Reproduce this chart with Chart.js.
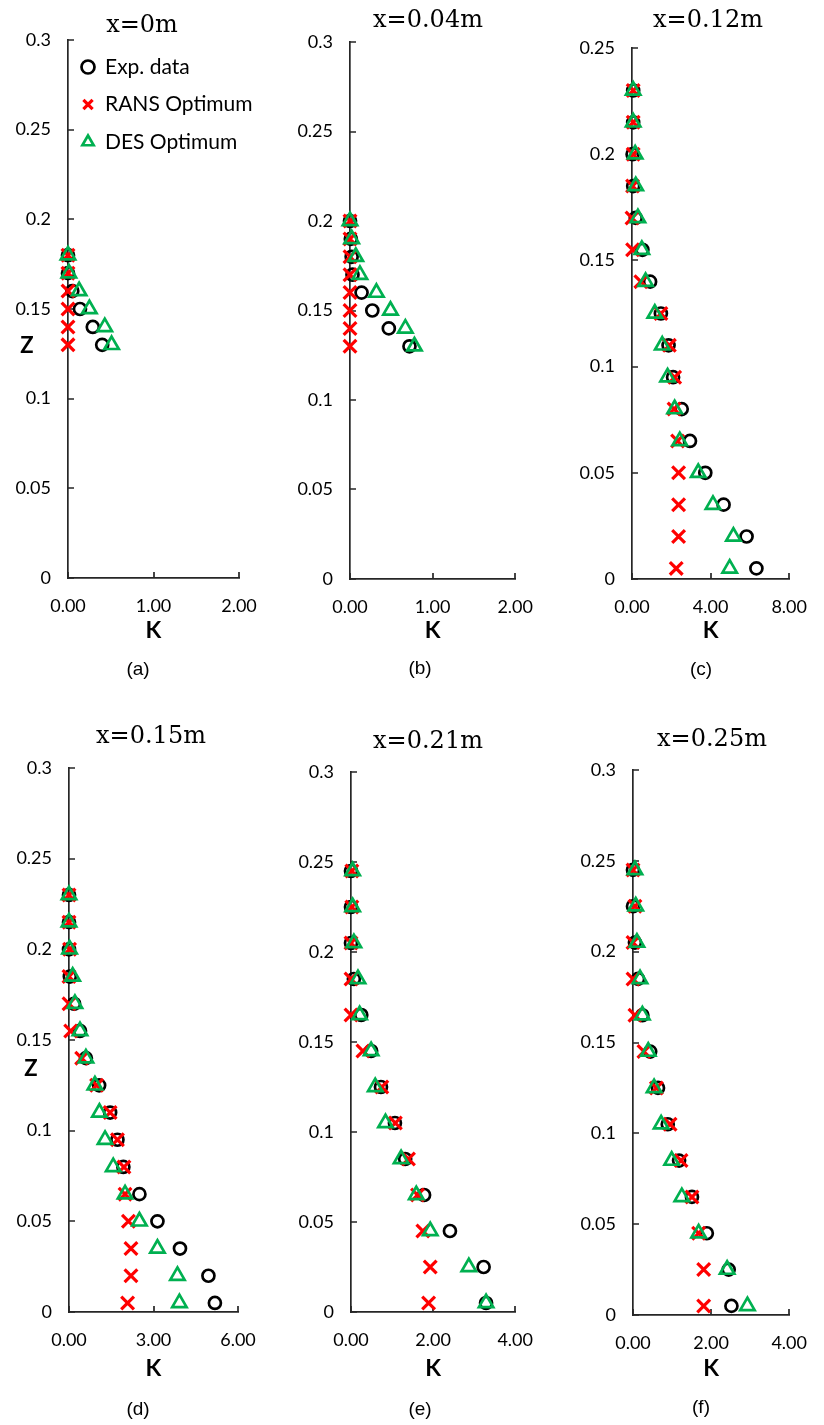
<!DOCTYPE html>
<html>
<head>
<meta charset="utf-8">
<title>K profiles</title>
<script src="https://cdn.jsdelivr.net/npm/chart.js@4/dist/chart.umd.min.js"></script>
<style>
  html, body { margin: 0; padding: 0; background: #ffffff; }
  #page { position: relative; width: 824px; height: 1425px; overflow: hidden; }
  #page canvas { position: absolute; }
</style>
</head>
<body>
<div id="page"></div>
<script>
// ---- data ---------------------------------------------------------------
const seriesNames = ['Exp. data', 'RANS Optimum', 'DES Optimum'];
const panelTitles = ['x=0m', 'x=0.04m', 'x=0.12m', 'x=0.15m', 'x=0.21m', 'x=0.25m'];
const panelCaptions = ['(a)', '(b)', '(c)', '(d)', '(e)', '(f)'];

// vertical tick values (Z) and horizontal tick values (K)
const zTicksTall = [0, 0.05, 0.1, 0.15, 0.2, 0.25, 0.3];
const zTicksShort = [0, 0.05, 0.1, 0.15, 0.2, 0.25];
const kTicksA = [0, 1, 2];
const kTicksB = [0, 1, 2];
const kTicksC = [0, 4, 8];
const kTicksD = [0, 3, 6];
const kTicksE = [0, 2, 4];
const kTicksF = [0, 2, 4];

// x = 0 m
const zA    = [0.18, 0.17, 0.16, 0.15, 0.14, 0.13];
const expA  = [0.00, 0.00, 0.05, 0.14, 0.29, 0.40];
const ransA = [0.00, 0.00, 0.00, 0.00, 0.00, 0.00];
const desA  = [0.00, 0.01, 0.13, 0.25, 0.43, 0.51];

// x = 0.04 m
const zB    = [0.20, 0.19, 0.18, 0.17, 0.16, 0.15, 0.14, 0.13];
const expB  = [0.00, 0.01, 0.02, 0.03, 0.14, 0.27, 0.47, 0.72];
const ransB = [0.00, 0.00, 0.00, 0.00, 0.00, 0.00, 0.00, 0.00];
const desB  = [0.00, 0.02, 0.07, 0.12, 0.32, 0.49, 0.67, 0.78];

// x = 0.12 m
const zC    = [0.23, 0.215, 0.2, 0.185, 0.17, 0.155, 0.14, 0.125, 0.11, 0.095, 0.08, 0.065, 0.05, 0.035, 0.02, 0.005];
const expC  = [0.06, 0.06, 0.03, 0.06, 0.19, 0.53, 0.92, 1.47, 1.86, 2.09, 2.53, 2.95, 3.73, 4.66, 5.83, 6.33];
const ransC = [0.06, 0.06, 0.06, 0.03, 0.00, 0.03, 0.45, 1.47, 1.90, 2.17, 2.14, 2.32, 2.37, 2.37, 2.37, 2.25];
const desC  = [0.06, 0.06, 0.16, 0.19, 0.30, 0.50, 0.69, 1.16, 1.54, 1.81, 2.17, 2.43, 3.37, 4.12, 5.16, 4.97];

// x = 0.15 m
const zD    = [0.23, 0.215, 0.2, 0.185, 0.17, 0.155, 0.14, 0.125, 0.11, 0.095, 0.08, 0.065, 0.05, 0.035, 0.02, 0.005];
const expD  = [0.00, 0.00, 0.00, 0.03, 0.18, 0.39, 0.60, 1.07, 1.46, 1.72, 1.93, 2.50, 3.14, 3.94, 4.95, 5.18];
const ransD = [0.00, 0.00, 0.02, 0.00, 0.00, 0.06, 0.45, 0.98, 1.46, 1.72, 1.95, 1.99, 2.11, 2.20, 2.20, 2.08];
const desD  = [0.00, 0.00, 0.02, 0.13, 0.21, 0.39, 0.60, 0.92, 1.08, 1.28, 1.57, 1.99, 2.50, 3.14, 3.85, 3.92];

// x = 0.21 m
const zE    = [0.245, 0.225, 0.205, 0.185, 0.165, 0.145, 0.125, 0.105, 0.085, 0.065, 0.045, 0.025, 0.005];
const expE  = [0.00, 0.00, 0.00, 0.07, 0.25, 0.49, 0.73, 1.07, 1.32, 1.78, 2.41, 3.23, 3.29];
const ransE = [0.02, 0.02, 0.00, 0.00, 0.00, 0.29, 0.75, 1.08, 1.40, 1.62, 1.75, 1.93, 1.89];
const desE  = [0.04, 0.04, 0.07, 0.17, 0.21, 0.49, 0.59, 0.84, 1.22, 1.59, 1.93, 2.87, 3.29];

// x = 0.25 m
const zF    = [0.245, 0.225, 0.205, 0.185, 0.165, 0.145, 0.125, 0.105, 0.085, 0.065, 0.045, 0.025, 0.005];
const expF  = [0.00, 0.00, 0.05, 0.13, 0.24, 0.44, 0.64, 0.89, 1.18, 1.51, 1.89, 2.45, 2.52];
const ransF = [0.00, 0.05, 0.00, 0.00, 0.05, 0.28, 0.60, 0.95, 1.23, 1.51, 1.68, 1.81, 1.81];
const desF  = [0.05, 0.07, 0.10, 0.18, 0.24, 0.39, 0.54, 0.72, 0.99, 1.25, 1.68, 2.41, 2.93];

// ---- panel assembly -----------------------------------------------------
const panelData = [
  { z: zA, exp: expA, rans: ransA, des: desA, kTicks: kTicksA, zTicks: zTicksTall },
  { z: zB, exp: expB, rans: ransB, des: desB, kTicks: kTicksB, zTicks: zTicksTall },
  { z: zC, exp: expC, rans: ransC, des: desC, kTicks: kTicksC, zTicks: zTicksShort },
  { z: zD, exp: expD, rans: ransD, des: desD, kTicks: kTicksD, zTicks: zTicksTall },
  { z: zE, exp: expE, rans: ransE, des: desE, kTicks: kTicksE, zTicks: zTicksTall },
  { z: zF, exp: expF, rans: ransF, des: desF, kTicks: kTicksF, zTicks: zTicksTall }
];

// page layout of each panel: canvas box, plot frame, text anchors (page px)
const panelLayout = [
  { canvas: [0, 0, 275, 700],     frame: [68, 40, 239, 578],    title: [142, 32],  caption: [138, 670],  kGap: 53, zLabel: [27, 346] },
  { canvas: [275, 0, 275, 700],   frame: [350, 42, 521, 579],   title: [428, 27],  caption: [420, 669],  kGap: 52 },
  { canvas: [550, 0, 274, 700],   frame: [632, 48, 803, 579],   title: [708, 27],  caption: [701, 670],  kGap: 52 },
  { canvas: [0, 700, 275, 725],   frame: [69, 768, 238, 1312],  title: [151, 743], caption: [138, 1410], kGap: 57, zLabel: [31, 1069] },
  { canvas: [275, 700, 275, 725], frame: [351, 772, 520, 1312], title: [428, 748], caption: [420, 1410], kGap: 57 },
  { canvas: [550, 700, 274, 725], frame: [633, 770, 802, 1315], title: [712, 746], caption: [701, 1408], kGap: 54 }
];

const AXIS_COLOR = '#262626';
const TEXT_COLOR = '#000000';
const TICK_FONT = { family: 'Lato', size: 18 };
const K_FONT = { family: 'Lato', size: 23, weight: 'bold', lineHeight: 1.2 };
const Y_AXIS_WIDTH = 60;
const TICK_LEN = 6;
const AXIS_WIDTH = 1.7;

// short tick marks pointing into the plot area
const inwardTicks = {
  id: 'inwardTicks',
  beforeDatasetsDraw(chart) {
    const { ctx, chartArea: a, scales: { x, y } } = chart;
    ctx.save();
    ctx.strokeStyle = AXIS_COLOR;
    ctx.lineWidth = AXIS_WIDTH;
    ctx.beginPath();
    y.ticks.forEach(t => {
      const py = Math.round(y.getPixelForValue(t.value));
      ctx.moveTo(a.left, py);
      ctx.lineTo(a.left + TICK_LEN, py);
    });
    x.ticks.forEach(t => {
      const px = Math.round(x.getPixelForValue(t.value));
      ctx.moveTo(px, a.bottom);
      ctx.lineTo(px, a.bottom - TICK_LEN);
    });
    ctx.stroke();
    ctx.restore();
  }
};

// panel heading, sub-caption and the vertical-axis letter
const panelText = {
  id: 'panelText',
  afterLayout(chart) {
    // legend sits inside the plot frame, allowed to run past its right edge
    if (chart.legend && chart.options.plugins.legend.display) {
      chart.legend.top = chart.chartArea.top;
      chart.legend.left = chart.chartArea.left - 3;
      chart.legend.right = chart.width;
      chart.legend.bottom = chart.chartArea.bottom;
    }
  },
  afterDraw(chart, args, o) {
    const ctx = chart.ctx;
    ctx.save();
    ctx.fillStyle = TEXT_COLOR;
    ctx.textAlign = 'center';
    ctx.font = '24px "DejaVu Serif"';
    ctx.textBaseline = 'alphabetic';
    ctx.fillText(o.title, o.titleX, o.titleY);
    ctx.font = '19px "Liberation Sans"';
    ctx.textBaseline = 'middle';
    ctx.fillText(o.caption, o.captionX, o.captionY);
    if (o.zX !== undefined) {
      ctx.font = 'bold 22px Lato';
      ctx.fillText('Z', o.zX, o.zY);
    }
    ctx.restore();
  }
};

const page = document.getElementById('page');

function makePanel(i) {
  const d = panelData[i];
  const L = panelLayout[i];
  const [cl, ct, cw, ch] = L.canvas;
  const [fl, ft, fr, fb] = L.frame;

  const canvas = document.createElement('canvas');
  canvas.width = cw;
  canvas.height = ch;
  canvas.style.left = cl + 'px';
  canvas.style.top = ct + 'px';
  canvas.style.width = cw + 'px';
  canvas.style.height = ch + 'px';
  page.appendChild(canvas);

  const xAxisHeight = L.kGap + K_FONT.size * K_FONT.lineHeight / 2;
  const padding = {
    left: fl - cl - Y_AXIS_WIDTH,
    top: ft - ct,
    right: cl + cw - fr,
    bottom: ct + ch - fb - xAxisHeight
  };

  const toPoints = arr => arr.map((k, j) => ({ x: k, y: d.z[j] }));

  // later series are painted over earlier ones (draw order via `order`)
  const datasets = [
    {
      label: seriesNames[0],
      data: toPoints(d.exp),
      pointStyle: 'circle',
      pointRadius: 6,
      borderWidth: 2.7,
      borderColor: '#000000',
      backgroundColor: 'rgba(0,0,0,0)',
      order: 3,
      clip: false
    },
    {
      label: seriesNames[1],
      data: toPoints(d.rans),
      pointStyle: 'crossRot',
      pointRadius: 9,
      borderWidth: 3.2,
      borderColor: '#FF0000',
      backgroundColor: 'rgba(0,0,0,0)',
      order: 2,
      clip: false
    },
    {
      label: seriesNames[2],
      data: toPoints(d.des),
      pointStyle: 'triangle',
      pointRadius: 8.3,
      borderWidth: 2.7,
      borderColor: '#00B050',
      backgroundColor: 'rgba(0,0,0,0)',
      order: 1,
      clip: false
    }
  ];

  const kMax = d.kTicks[d.kTicks.length - 1];
  const zMax = d.zTicks[d.zTicks.length - 1];

  return new Chart(canvas, {
    type: 'scatter',
    data: { datasets },
    options: {
      responsive: false,
      animation: false,
      events: [],
      devicePixelRatio: 1,
      layout: { padding, autoPadding: false },
      plugins: {
        legend: {
          display: i === 0,
          position: 'chartArea',
          align: 'start',
          labels: {
            usePointStyle: true,
            pointStyleWidth: 13,
            boxHeight: 9.2,
            padding: 16.5,
            color: TEXT_COLOR,
            font: { family: 'Lato', size: 21 },
            sort: (a, b) => a.datasetIndex - b.datasetIndex
          }
        },
        tooltip: { enabled: false },
        panelText: {
          title: panelTitles[i],
          titleX: L.title[0] - cl,
          titleY: L.title[1] - ct,
          caption: panelCaptions[i],
          captionX: L.caption[0] - cl,
          captionY: L.caption[1] - ct,
          zX: L.zLabel ? L.zLabel[0] - cl : undefined,
          zY: L.zLabel ? L.zLabel[1] - ct : undefined
        }
      },
      scales: {
        x: {
          type: 'linear',
          min: 0,
          max: kMax,
          afterBuildTicks: s => { s.ticks = d.kTicks.map(v => ({ value: v })); },
          afterFit: s => { s.height = xAxisHeight; },
          grid: { display: false, drawTicks: false },
          border: { display: true, color: AXIS_COLOR, width: AXIS_WIDTH },
          ticks: {
            padding: 17,
            color: TEXT_COLOR,
            font: TICK_FONT,
            maxRotation: 0,
            autoSkip: false,
            callback: v => Number(v).toFixed(2)
          },
          title: {
            display: true,
            text: 'K',
            color: TEXT_COLOR,
            font: K_FONT,
            padding: { top: 0, bottom: 0 }
          }
        },
        y: {
          type: 'linear',
          min: 0,
          max: zMax,
          afterBuildTicks: s => { s.ticks = d.zTicks.map(v => ({ value: v })); },
          afterFit: s => { s.width = Y_AXIS_WIDTH; },
          grid: { display: false, drawTicks: false },
          border: { display: true, color: AXIS_COLOR, width: AXIS_WIDTH },
          ticks: {
            padding: 17,
            color: TEXT_COLOR,
            font: TICK_FONT,
            autoSkip: false,
            callback: v => String(Number(v.toFixed(3)))
          }
        }
      }
    },
    plugins: [inwardTicks, panelText]
  });
}

for (let i = 0; i < panelData.length; i++) makePanel(i);
</script>
</body>
</html>
